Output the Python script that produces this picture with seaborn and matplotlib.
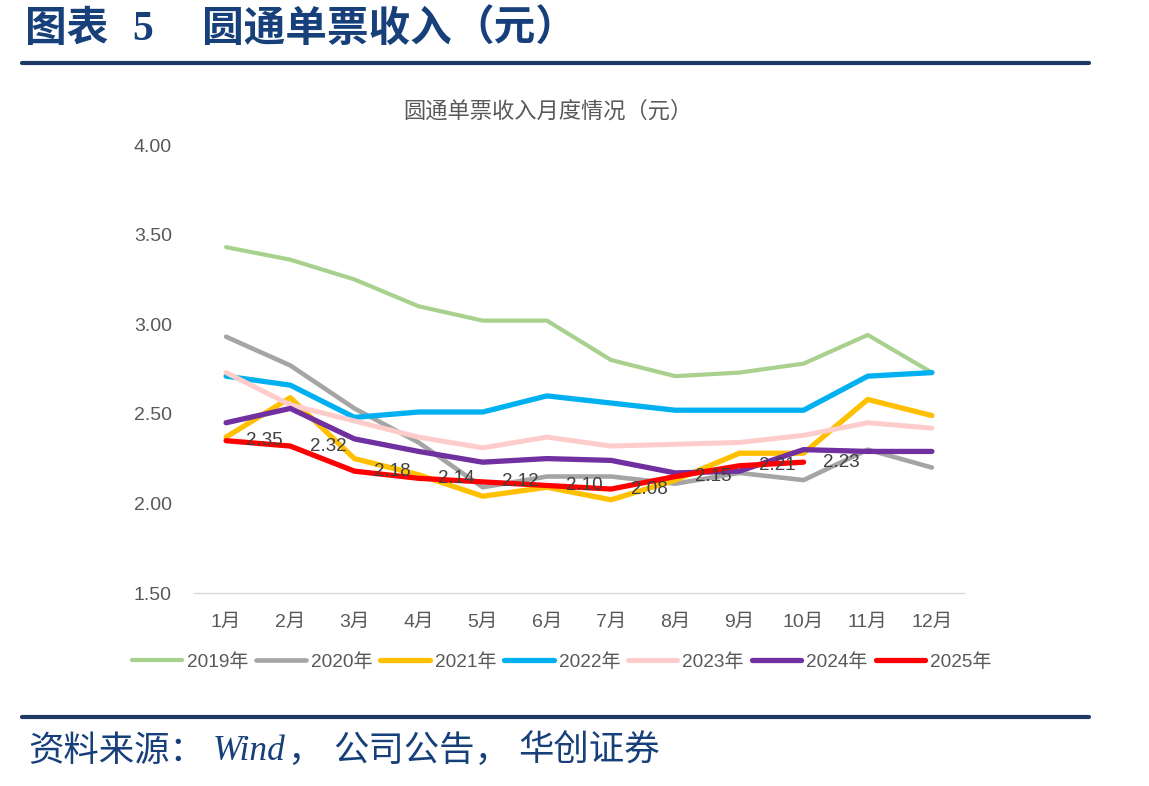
import matplotlib.pyplot as plt
import seaborn as sns
import pandas as pd
from matplotlib.lines import Line2D

# Data
months = ['1月', '2月', '3月', '4月', '5月', '6月', '7月', '8月', '9月', '10月', '11月', '12月']
years = ['2019年', '2020年', '2021年', '2022年', '2023年', '2024年', '2025年']

v2019 = [3.43, 3.36, 3.25, 3.10, 3.02, 3.02, 2.80, 2.71, 2.73, 2.78, 2.94, 2.73]
v2020 = [2.93, 2.77, 2.53, 2.34, 2.09, 2.15, 2.15, 2.11, 2.17, 2.13, 2.30, 2.20]
v2021 = [2.37, 2.59, 2.25, 2.16, 2.04, 2.09, 2.02, 2.13, 2.28, 2.28, 2.58, 2.49]
v2022 = [2.71, 2.66, 2.48, 2.51, 2.51, 2.60, 2.56, 2.52, 2.52, 2.52, 2.71, 2.73]
v2023 = [2.73, 2.55, 2.46, 2.37, 2.31, 2.37, 2.32, 2.33, 2.34, 2.38, 2.45, 2.42]
v2024 = [2.45, 2.53, 2.36, 2.29, 2.23, 2.25, 2.24, 2.17, 2.18, 2.30, 2.29, 2.29]
v2025 = [2.35, 2.32, 2.18, 2.14, 2.12, 2.10, 2.08, 2.15, 2.21, 2.23]

series = [v2019, v2020, v2021, v2022, v2023, v2024, v2025]
colors = ['#A9D18E', '#A5A5A5', '#FFC000', '#00B0F0', '#FFCCCC', '#7030A0', '#FF0000']
widths = [3.0, 3.3, 3.8, 3.8, 3.6, 3.8, 3.8]

rows = []
for yr, vals in zip(years, series):
    for i, v in enumerate(vals):
        rows.append({'month': i, 'year': yr, 'value': v})
df = pd.DataFrame(rows)

sns.set_style('white')
plt.rcParams['font.family'] = ['Liberation Sans', 'Noto Sans CJK SC']

W, H = 1149, 786
fig = plt.figure(figsize=(W / 100, H / 100), dpi=100)
ax = fig.add_axes([194 / W, 1 - 593 / H, 770 / W, 448 / H])

for yr, col, lw in zip(years, colors, widths):
    sns.lineplot(data=df[df['year'] == yr], x='month', y='value', color=col,
                 linewidth=lw, label=yr, ax=ax, sort=False, errorbar=None,
                 solid_capstyle='round', solid_joinstyle='round')

# data labels for 2025
for i, v in enumerate(v2025):
    ax.annotate(f'{v:.2f}', (i, v), xytext=(14, 0), textcoords='offset points',
                ha='left', va='center', fontsize=13.5, color='#404040', zorder=10)

ax.set_xlim(-0.5, 11.5)
ax.set_ylim(1.5, 4.0)
ax.set_xticks(range(12))
ax.set_xticklabels(months)
yt = [1.5, 2.0, 2.5, 3.0, 3.5, 4.0]
ax.set_yticks(yt)
ax.set_yticklabels([f'{t:.2f}' for t in yt])
ax.set_xlabel('')
ax.set_ylabel('')
ax.tick_params(axis='both', length=0, labelsize=14, labelcolor='#595959')
ax.tick_params(axis='y', pad=16)
ax.tick_params(axis='x', pad=15)
for s in ['top', 'right', 'left']:
    ax.spines[s].set_visible(False)
ax.spines['bottom'].set_color('#D9D9D9')
ax.spines['bottom'].set_linewidth(1.0)

leg = ax.legend(loc='center', bbox_to_anchor=(562 / W, 1 - 662 / H), bbox_transform=fig.transFigure,
                ncol=7, frameon=False, fontsize=13.7, handlelength=2.6,
                handletextpad=0.26, columnspacing=0.42)
for t in leg.get_texts():
    t.set_color('#595959')

# chart title
fig.text(548 / W, 1 - 112 / H, '圆通单票收入月度情况（元）', ha='center', va='center',
         fontsize=16, color='#595959')

# report header / footer
navy = '#1F3864'
blue_txt = '#17407A'
serif = ['Liberation Serif', 'Noto Sans CJK SC']
ty = 1 - 30 / H
for s, x in [('图表', 25), ('5', 132), ('圆通单票收入', 202), ('（元）', 452)]:
    fig.text(x / W, ty, s, ha='left', va='center', fontsize=30, fontweight='bold',
             color=blue_txt, family=serif)
fig.add_artist(Line2D([22 / W, 1089 / W], [1 - 63 / H, 1 - 63 / H], color=navy, linewidth=3))
fig.add_artist(Line2D([22 / W, 1089 / W], [1 - 717 / H, 1 - 717 / H], color=navy, linewidth=3))

fy = 1 - 752 / H
for s, x in [('资料来源：', 28), ('Wind', 213), ('，', 287), ('公司公告，', 333), ('华创证券', 518)]:
    fig.text(x / W, fy, s, ha='left', va='center', fontsize=25.5, style='italic',
             color=blue_txt, family=serif)

plt.savefig('out.png', dpi=100)
plt.close()
